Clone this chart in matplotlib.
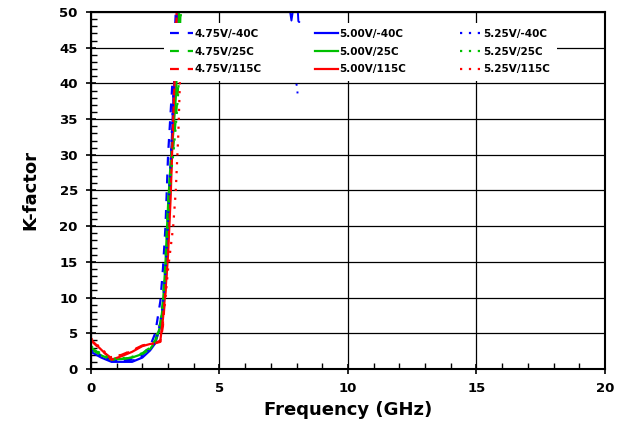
import matplotlib.pyplot as plt
from matplotlib.ticker import MultipleLocator

# K-factor vs frequency, 9 corners (voltage / temperature)
freq = [0, 0.4, 0.8, 1.2, 1.6, 2.0, 2.3, 2.5, 2.7, 2.8, 2.9, 3.0, 3.1, 3.2, 3.3, 3.4, 3.5]

k_475_m40 = [2.8, 2.0, 1.3, 1.2, 1.3, 2.0, 3.2, 5.0, 9.5, 14, 20, 30, 36, 42, 50, 60, 70]
k_500_m40 = [2.4, 1.6, 1.0, 1.0, 1.0, 1.6, 2.6, 3.6, 6.0, 8.5, 13, 20, 28, 37, 45, 55, 65]
k_525_m40 = [2.6, 1.8, 1.1, 1.1, 1.1, 1.8, 2.8, 3.8, 6.5, 9.0, 14, 21, 29, 38, 47, 58, 68]

k_475_25 = [3.0, 2.0, 1.3, 1.4, 1.6, 2.2, 3.0, 4.0, 6.5, 9.5, 15, 23, 28, 31, 35, 40, 52]
k_500_25 = [2.8, 1.9, 1.3, 1.4, 1.6, 2.1, 2.8, 3.8, 6.0, 9.0, 15, 23, 29, 33, 38, 47, 58]
k_525_25 = [3.2, 2.1, 1.4, 1.5, 1.7, 2.2, 3.0, 4.0, 6.3, 9.2, 14, 21, 27, 30, 34, 39, 50]

k_475_115 = [4.0, 2.6, 1.5, 2.0, 2.6, 3.3, 3.5, 3.6, 3.8, 6.0, 11, 18, 26, 36, 48, 60, 70]
k_500_115 = [4.1, 2.7, 1.3, 1.8, 2.4, 3.2, 3.5, 3.6, 4.0, 7.0, 11, 16, 24, 35, 45, 60, 70]
k_525_115 = [4.3, 2.8, 1.6, 2.0, 2.5, 3.3, 3.5, 3.6, 3.9, 6.5, 10, 14, 17, 20, 25, 33, 45]

# stray blue points near 8 GHz
stray_freq_a = [7.75, 7.8, 7.85]
stray_k_a = [50, 48.8, 50]
stray_freq_b = [8.05, 8.07, 8.1]
stray_k_b = [50, 48.7, 48.6]
stray_freq_c = [7.92, 7.97, 8.02, 8.04]
stray_k_c = [41, 40.3, 39.5, 38.5]

BLUE = "#0000ff"
GREEN = "#00c000"
RED = "#ff0000"
DASH = (0, (4, 4))
DOT = (0, (1, 3))

series = [
    (k_475_m40, BLUE, DASH, "4.75V/-40C"),
    (k_475_25, GREEN, DASH, "4.75V/25C"),
    (k_475_115, RED, DASH, "4.75V/115C"),
    (k_500_m40, BLUE, "-", "5.00V/-40C"),
    (k_500_25, GREEN, "-", "5.00V/25C"),
    (k_500_115, RED, "-", "5.00V/115C"),
    (k_525_m40, BLUE, DOT, "5.25V/-40C"),
    (k_525_25, GREEN, DOT, "5.25V/25C"),
    (k_525_115, RED, DOT, "5.25V/115C"),
]

fig = plt.figure(figsize=(6.3, 4.28), dpi=100)
ax = fig.add_axes([0.1444, 0.1379, 0.8159, 0.8341])

for vals, color, ls, label in series:
    ax.plot(freq, vals, color=color, linestyle=ls, lw=1.6, label=label)

ax.plot(stray_freq_a, stray_k_a, color=BLUE, lw=1.4)
ax.plot(stray_freq_b, stray_k_b, color=BLUE, lw=1.4)
ax.plot(stray_freq_c, stray_k_c, color=BLUE, lw=1.4, linestyle=DOT)

ax.set_xlim(0, 20)
ax.set_ylim(0, 50)
ax.xaxis.set_major_locator(MultipleLocator(5))
ax.xaxis.set_minor_locator(MultipleLocator(1))
ax.yaxis.set_major_locator(MultipleLocator(5))
ax.yaxis.set_minor_locator(MultipleLocator(1))
ax.grid(True, which="major", color="black", lw=0.9)
ax.set_axisbelow(True)

ax.tick_params(which="major", direction="inout", length=7, width=1.2,
               labelsize=9.5, pad=6)
ax.tick_params(which="minor", direction="in", length=4, width=1)
for lbl in ax.get_xticklabels() + ax.get_yticklabels():
    lbl.set_fontweight("bold")
for sp in ax.spines.values():
    sp.set_linewidth(1.5)

ax.set_xlabel("Frequency (GHz)", fontsize=13, fontweight="bold", labelpad=4)
ax.set_ylabel("K-factor", fontsize=13, fontweight="bold", labelpad=14)

leg = ax.legend(loc="upper center", bbox_to_anchor=(0.524, 0.985), ncol=3,
                frameon=True, framealpha=1, edgecolor="none",
                handlelength=2.2, handletextpad=0.1, columnspacing=5.15,
                labelspacing=0.75, borderpad=0.6, prop={"weight": "bold", "size": 7.5})
leg.get_frame().set_facecolor("white")

fig.savefig("out.png", dpi=100)
